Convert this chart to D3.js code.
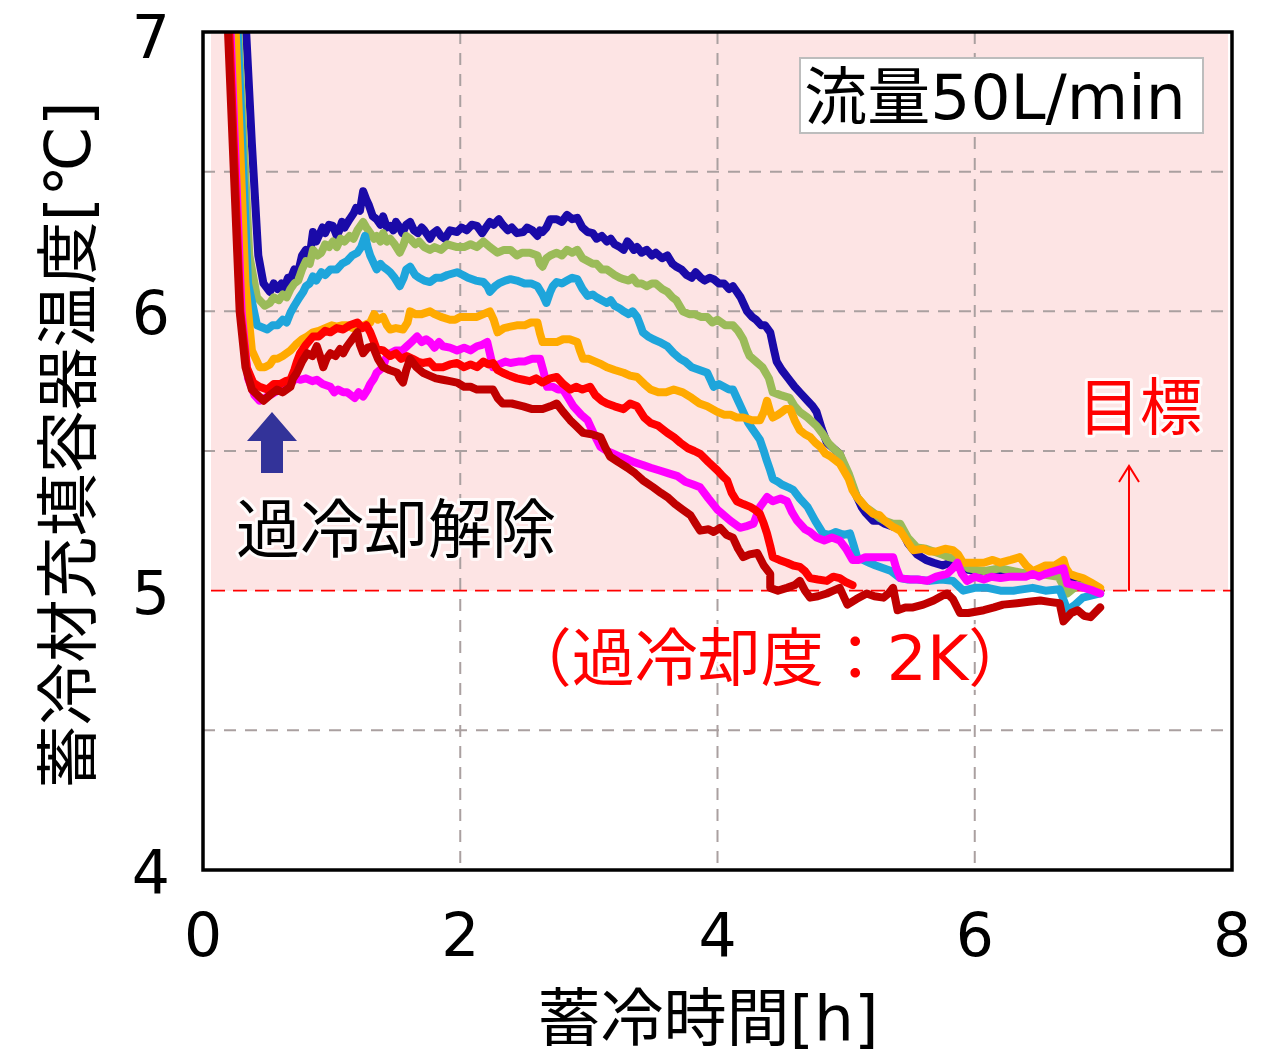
<!DOCTYPE html>
<html>
<head>
<meta charset="utf-8">
<script src="https://cdn.jsdelivr.net/npm/d3@7"></script>
<style>
  html, body { margin: 0; padding: 0; background: #fff; }
  svg { display: block; }
  text { font-family: "DejaVu Sans", "Noto Sans CJK JP", sans-serif; }
</style>
</head>
<body>
<svg id="chart" width="1272" height="1057"></svg>
<script>
// Axis ticks
const xTicks = [0, 2, 4, 6, 8];
const yTicks = [4, 5, 6, 7];
const xGrid = [2, 4, 6];
const yGrid = [4.5, 5.5, 6, 6.5];
const targetTemp = 5;

// Storage-material container temperature [°C] vs. charging time [h], as [time, temp]
const seriesNavy = [[0.33,7.05],[0.38,6.6],[0.43,6.2],[0.47,6.1],[0.52,6.07],[0.55,6.1],[0.58,6.08],[0.61,6.1],[0.63,6.08],[0.66,6.12],[0.68,6.115],[0.71,6.15],[0.74,6.14],[0.77,6.2],[0.8,6.22],[0.83,6.2],[0.855,6.284],[0.88,6.25],[0.9,6.27],[0.93,6.3],[0.95,6.28],[0.98,6.31],[1.01,6.306],[1.04,6.27],[1.06,6.29],[1.08,6.32],[1.1,6.3],[1.14,6.33],[1.17,6.35],[1.19,6.37],[1.22,6.36],[1.245,6.43],[1.27,6.4],[1.29,6.38],[1.32,6.34],[1.35,6.33],[1.38,6.31],[1.4,6.34],[1.43,6.3],[1.455,6.306],[1.48,6.29],[1.5,6.32],[1.53,6.3],[1.55,6.28],[1.58,6.31],[1.61,6.32],[1.64,6.29],[1.67,6.28],[1.7,6.3],[1.72,6.29],[1.765,6.26],[1.79,6.28],[1.82,6.29],[1.85,6.27],[1.88,6.26],[1.92,6.29],[1.975,6.284],[2.01,6.3],[2.05,6.29],[2.09,6.31],[2.13,6.306],[2.17,6.28],[2.2,6.3],[2.23,6.32],[2.26,6.31],[2.3,6.33],[2.33,6.31],[2.37,6.29],[2.4,6.3],[2.44,6.28],[2.49,6.284],[2.52,6.3],[2.56,6.29],[2.6,6.27],[2.62,6.29],[2.64,6.284],[2.67,6.3],[2.7,6.33],[2.75,6.33],[2.79,6.32],[2.83,6.345],[2.87,6.33],[2.91,6.335],[2.95,6.3],[2.99,6.284],[3.03,6.28],[3.06,6.26],[3.1,6.27],[3.14,6.25],[3.17,6.26],[3.2,6.24],[3.24,6.23],[3.27,6.22],[3.3,6.25],[3.32,6.24],[3.35,6.22],[3.375,6.23],[3.41,6.21],[3.45,6.22],[3.49,6.2],[3.52,6.21],[3.57,6.19],[3.61,6.2],[3.65,6.17],[3.68,6.16],[3.72,6.15],[3.76,6.13],[3.8,6.12],[3.83,6.14],[3.87,6.12],[3.9,6.11],[3.94,6.12],[3.97,6.115],[4.01,6.1],[4.05,6.1],[4.09,6.08],[4.12,6.09],[4.15,6.07],[4.18,6.05],[4.21,6.02],[4.23,6.0],[4.27,5.98],[4.3,5.97],[4.34,5.95],[4.37,5.95],[4.41,5.925],[4.44,5.86],[4.46,5.82],[4.5,5.79],[4.55,5.76],[4.6,5.73],[4.64,5.71],[4.7,5.68],[4.74,5.66],[4.77,5.64],[4.81,5.58],[4.85,5.53],[4.9,5.51],[4.95,5.49],[4.99,5.44],[5.02,5.41],[5.05,5.37],[5.085,5.335],[5.12,5.3],[5.15,5.28],[5.21,5.25],[5.26,5.25],[5.3,5.24],[5.36,5.23],[5.42,5.23],[5.45,5.2],[5.48,5.17],[5.55,5.13],[5.62,5.11],[5.68,5.10],[5.75,5.09],[5.81,5.10],[5.89,5.08],[6.0,5.07],[6.2,5.07],[6.4,5.06],[6.6,5.06],[6.8,5.04],[6.975,5.0]];

const seriesGreen = [[0.27,7.05],[0.36,6.2],[0.42,6.05],[0.48,6.02],[0.52,6.03],[0.55,6.05],[0.59,6.04],[0.62,6.06],[0.65,6.05],[0.68,6.08],[0.71,6.1],[0.74,6.11],[0.77,6.15],[0.8,6.18],[0.83,6.17],[0.855,6.22],[0.89,6.2],[0.92,6.21],[0.95,6.24],[0.98,6.23],[1.01,6.25],[1.04,6.23],[1.07,6.26],[1.1,6.25],[1.14,6.27],[1.17,6.26],[1.2,6.29],[1.245,6.32],[1.27,6.3],[1.3,6.28],[1.33,6.26],[1.35,6.27],[1.38,6.25],[1.4,6.28],[1.43,6.25],[1.455,6.26],[1.49,6.24],[1.53,6.21],[1.56,6.24],[1.58,6.27],[1.61,6.26],[1.65,6.24],[1.68,6.25],[1.72,6.23],[1.765,6.22],[1.8,6.23],[1.85,6.22],[1.9,6.24],[1.975,6.23],[2.03,6.23],[2.08,6.24],[2.13,6.23],[2.18,6.25],[2.23,6.23],[2.29,6.21],[2.34,6.22],[2.39,6.22],[2.44,6.2],[2.48,6.21],[2.54,6.21],[2.6,6.2],[2.62,6.17],[2.64,6.16],[2.67,6.19],[2.7,6.2],[2.75,6.21],[2.79,6.2],[2.83,6.22],[2.87,6.21],[2.91,6.22],[2.95,6.19],[2.99,6.18],[3.03,6.17],[3.06,6.17],[3.1,6.15],[3.14,6.15],[3.17,6.14],[3.2,6.13],[3.24,6.12],[3.27,6.115],[3.31,6.11],[3.34,6.12],[3.375,6.10],[3.41,6.1],[3.45,6.09],[3.49,6.1],[3.52,6.1],[3.57,6.08],[3.61,6.07],[3.65,6.05],[3.68,6.04],[3.73,6.0],[3.78,5.99],[3.82,5.99],[3.87,5.98],[3.92,5.98],[3.96,5.96],[4.0,5.97],[4.06,5.95],[4.12,5.95],[4.16,5.93],[4.2,5.9],[4.23,5.86],[4.25,5.84],[4.3,5.82],[4.35,5.80],[4.4,5.76],[4.43,5.71],[4.49,5.7],[4.56,5.69],[4.6,5.66],[4.64,5.64],[4.7,5.62],[4.77,5.59],[4.82,5.56],[4.86,5.53],[4.9,5.51],[4.95,5.49],[5.02,5.42],[5.085,5.335],[5.15,5.3],[5.21,5.28],[5.26,5.26],[5.3,5.25],[5.36,5.24],[5.42,5.24],[5.48,5.19],[5.55,5.155],[5.62,5.15],[5.68,5.14],[5.74,5.13],[5.8,5.12],[5.89,5.11],[5.95,5.08],[6.07,5.07],[6.2,5.08],[6.3,5.07],[6.4,5.06],[6.5,5.06],[6.65,5.05],[6.72,4.99],[6.8,5.02],[6.9,5.01],[6.975,5.0]];

const seriesSky = [[0.265,7.05],[0.35,6.1],[0.42,5.95],[0.5,5.935],[0.54,5.95],[0.58,5.95],[0.62,5.97],[0.65,5.96],[0.68,5.995],[0.71,6.02],[0.75,6.05],[0.78,6.07],[0.8,6.09],[0.83,6.1],[0.855,6.125],[0.88,6.11],[0.92,6.14],[0.95,6.13],[0.99,6.15],[1.04,6.15],[1.08,6.17],[1.12,6.18],[1.16,6.2],[1.2,6.21],[1.23,6.23],[1.26,6.27],[1.28,6.23],[1.3,6.2],[1.33,6.17],[1.35,6.15],[1.38,6.17],[1.4,6.16],[1.43,6.15],[1.455,6.14],[1.49,6.12],[1.53,6.09],[1.56,6.12],[1.58,6.15],[1.61,6.16],[1.65,6.13],[1.68,6.12],[1.72,6.11],[1.765,6.105],[1.81,6.12],[1.85,6.12],[1.9,6.13],[1.975,6.14],[2.02,6.13],[2.06,6.12],[2.12,6.11],[2.18,6.105],[2.21,6.09],[2.23,6.07],[2.27,6.09],[2.3,6.1],[2.35,6.11],[2.39,6.115],[2.44,6.11],[2.5,6.1],[2.55,6.1],[2.6,6.09],[2.64,6.06],[2.67,6.03],[2.7,6.07],[2.72,6.09],[2.75,6.105],[2.79,6.1],[2.83,6.11],[2.87,6.12],[2.91,6.115],[2.95,6.08],[2.99,6.055],[3.03,6.06],[3.06,6.05],[3.1,6.04],[3.14,6.03],[3.17,6.04],[3.2,6.02],[3.24,6.01],[3.27,6.0],[3.31,5.99],[3.34,6.0],[3.375,5.98],[3.4,5.95],[3.42,5.925],[3.46,5.91],[3.5,5.9],[3.55,5.89],[3.61,5.875],[3.66,5.85],[3.71,5.83],[3.75,5.82],[3.8,5.8],[3.86,5.79],[3.92,5.78],[3.95,5.75],[3.97,5.73],[4.01,5.74],[4.05,5.73],[4.09,5.72],[4.12,5.72],[4.16,5.68],[4.2,5.64],[4.24,5.6],[4.27,5.58],[4.3,5.56],[4.33,5.54],[4.36,5.5],[4.38,5.47],[4.41,5.43],[4.43,5.40],[4.47,5.39],[4.5,5.38],[4.55,5.37],[4.59,5.36],[4.64,5.33],[4.70,5.30],[4.76,5.25],[4.82,5.205],[4.87,5.2],[4.92,5.21],[4.98,5.2],[5.03,5.205],[5.06,5.16],[5.085,5.12],[5.13,5.11],[5.18,5.1],[5.23,5.09],[5.29,5.08],[5.35,5.07],[5.42,5.045],[5.48,5.04],[5.55,5.04],[5.65,5.035],[5.74,5.04],[5.83,5.035],[5.91,5.0],[6.0,5.01],[6.1,5.01],[6.2,5.0],[6.3,5.0],[6.45,5.01],[6.55,5.0],[6.66,5.005],[6.72,4.93],[6.78,4.95],[6.84,4.975],[6.975,4.99]];

const seriesOrange = [[0.25,7.05],[0.33,6.1],[0.38,5.86],[0.44,5.8],[0.48,5.80],[0.52,5.81],[0.55,5.83],[0.58,5.83],[0.62,5.84],[0.65,5.85],[0.68,5.86],[0.72,5.88],[0.77,5.9],[0.81,5.91],[0.855,5.925],[0.9,5.93],[0.95,5.94],[1.0,5.95],[1.04,5.945],[1.08,5.95],[1.12,5.95],[1.16,5.94],[1.2,5.945],[1.25,5.95],[1.3,5.96],[1.33,5.99],[1.36,5.97],[1.4,5.98],[1.43,5.95],[1.455,5.935],[1.5,5.94],[1.555,5.935],[1.59,5.96],[1.61,6.0],[1.65,5.99],[1.7,5.99],[1.765,6.0],[1.8,5.99],[1.85,5.98],[1.92,5.97],[1.96,5.97],[2.0,5.98],[2.06,5.98],[2.13,5.98],[2.18,5.99],[2.23,6.0],[2.26,5.97],[2.29,5.925],[2.34,5.94],[2.39,5.945],[2.44,5.95],[2.5,5.95],[2.55,5.96],[2.6,5.96],[2.62,5.92],[2.64,5.89],[2.7,5.89],[2.75,5.89],[2.8,5.9],[2.85,5.9],[2.91,5.89],[2.93,5.86],[2.955,5.83],[3.0,5.83],[3.05,5.82],[3.1,5.81],[3.14,5.80],[3.2,5.79],[3.27,5.78],[3.32,5.77],[3.375,5.765],[3.43,5.74],[3.48,5.72],[3.54,5.71],[3.6,5.71],[3.66,5.72],[3.73,5.71],[3.8,5.69],[3.86,5.67],[3.92,5.66],[4.0,5.64],[4.05,5.63],[4.1,5.63],[4.15,5.62],[4.2,5.62],[4.27,5.61],[4.33,5.61],[4.36,5.64],[4.385,5.68],[4.41,5.64],[4.43,5.62],[4.47,5.63],[4.5,5.64],[4.53,5.65],[4.565,5.65],[4.6,5.61],[4.64,5.575],[4.68,5.56],[4.72,5.55],[4.76,5.53],[4.8,5.515],[4.84,5.49],[4.88,5.48],[4.95,5.455],[5.02,5.4],[5.05,5.36],[5.085,5.335],[5.15,5.3],[5.21,5.275],[5.26,5.27],[5.3,5.25],[5.36,5.23],[5.42,5.215],[5.47,5.18],[5.52,5.145],[5.6,5.15],[5.65,5.14],[5.7,5.14],[5.77,5.15],[5.83,5.145],[5.87,5.13],[5.91,5.10],[6.0,5.1],[6.07,5.10],[6.14,5.11],[6.2,5.1],[6.28,5.11],[6.35,5.12],[6.4,5.09],[6.45,5.07],[6.5,5.08],[6.55,5.09],[6.62,5.09],[6.69,5.11],[6.71,5.08],[6.74,5.06],[6.8,5.05],[6.84,5.045],[6.9,5.03],[6.975,5.01]];

const seriesMagenta = [[0.21,7.05],[0.3,6.0],[0.35,5.76],[0.4,5.7],[0.44,5.68],[0.48,5.69],[0.52,5.7],[0.56,5.71],[0.6,5.72],[0.64,5.73],[0.68,5.74],[0.72,5.76],[0.755,5.755],[0.8,5.76],[0.85,5.75],[0.885,5.755],[0.93,5.74],[0.99,5.73],[1.02,5.71],[1.05,5.72],[1.09,5.71],[1.12,5.71],[1.15,5.7],[1.18,5.69],[1.21,5.71],[1.245,5.695],[1.28,5.72],[1.3,5.74],[1.33,5.76],[1.35,5.78],[1.4,5.8],[1.42,5.83],[1.455,5.85],[1.5,5.86],[1.55,5.86],[1.585,5.875],[1.62,5.89],[1.665,5.91],[1.7,5.89],[1.735,5.9],[1.765,5.89],[1.8,5.87],[1.835,5.89],[1.865,5.875],[1.92,5.87],[1.975,5.86],[2.03,5.87],[2.08,5.86],[2.13,5.875],[2.17,5.88],[2.21,5.89],[2.23,5.85],[2.255,5.80],[2.3,5.81],[2.35,5.82],[2.39,5.815],[2.45,5.82],[2.5,5.82],[2.56,5.83],[2.62,5.83],[2.65,5.78],[2.675,5.73],[2.72,5.73],[2.76,5.72],[2.8,5.72],[2.84,5.69],[2.88,5.66],[2.94,5.63],[2.99,5.61],[3.04,5.56],[3.09,5.515],[3.14,5.5],[3.19,5.49],[3.24,5.48],[3.3,5.47],[3.35,5.46],[3.42,5.45],[3.48,5.44],[3.55,5.43],[3.62,5.42],[3.69,5.41],[3.75,5.39],[3.81,5.38],[3.865,5.37],[3.93,5.33],[4.0,5.29],[4.05,5.27],[4.1,5.25],[4.175,5.225],[4.22,5.23],[4.28,5.24],[4.33,5.3],[4.385,5.335],[4.43,5.32],[4.49,5.33],[4.54,5.32],[4.58,5.28],[4.62,5.25],[4.68,5.22],[4.72,5.21],[4.77,5.19],[4.83,5.18],[4.89,5.19],[4.95,5.18],[5.0,5.15],[5.05,5.11],[5.1,5.11],[5.15,5.12],[5.2,5.12],[5.265,5.12],[5.32,5.12],[5.365,5.12],[5.39,5.08],[5.42,5.045],[5.5,5.04],[5.56,5.04],[5.63,5.035],[5.7,5.05],[5.785,5.06],[5.83,5.08],[5.865,5.10],[5.9,5.06],[5.94,5.035],[6.0,5.05],[6.07,5.04],[6.13,5.05],[6.2,5.045],[6.27,5.05],[6.33,5.05],[6.4,5.05],[6.45,5.06],[6.5,5.05],[6.55,5.06],[6.62,5.07],[6.69,5.08],[6.72,5.025],[6.78,5.02],[6.85,5.01],[6.92,5.0],[6.975,4.99]];

const seriesRed = [[0.2,7.05],[0.29,6.0],[0.34,5.8],[0.39,5.745],[0.44,5.73],[0.5,5.72],[0.55,5.74],[0.6,5.74],[0.64,5.75],[0.68,5.755],[0.71,5.79],[0.73,5.82],[0.755,5.85],[0.8,5.88],[0.855,5.91],[0.9,5.91],[0.95,5.93],[0.99,5.925],[1.04,5.94],[1.09,5.935],[1.14,5.95],[1.2,5.96],[1.24,5.94],[1.27,5.95],[1.3,5.925],[1.33,5.89],[1.35,5.865],[1.4,5.86],[1.455,5.84],[1.5,5.85],[1.54,5.83],[1.585,5.84],[1.63,5.83],[1.67,5.82],[1.71,5.815],[1.76,5.82],[1.8,5.8],[1.865,5.80],[1.92,5.81],[1.975,5.815],[2.03,5.8],[2.08,5.81],[2.13,5.80],[2.18,5.82],[2.22,5.81],[2.255,5.815],[2.29,5.79],[2.33,5.78],[2.38,5.77],[2.44,5.76],[2.49,5.755],[2.54,5.75],[2.59,5.76],[2.64,5.745],[2.7,5.76],[2.75,5.765],[2.8,5.74],[2.855,5.72],[2.9,5.73],[2.95,5.72],[3.01,5.73],[3.05,5.7],[3.1,5.68],[3.14,5.67],[3.2,5.66],[3.27,5.65],[3.32,5.67],[3.375,5.66],[3.43,5.62],[3.48,5.60],[3.54,5.59],[3.61,5.565],[3.66,5.55],[3.71,5.53],[3.77,5.51],[3.82,5.5],[3.865,5.49],[3.93,5.46],[4.0,5.43],[4.04,5.41],[4.075,5.395],[4.11,5.35],[4.15,5.32],[4.2,5.31],[4.255,5.30],[4.29,5.29],[4.33,5.275],[4.36,5.24],[4.385,5.205],[4.41,5.16],[4.43,5.12],[4.48,5.11],[4.54,5.10],[4.59,5.09],[4.64,5.085],[4.68,5.07],[4.72,5.045],[4.78,5.04],[4.85,5.035],[4.9,5.05],[4.95,5.045],[5.0,5.03],[5.05,5.02]];

const seriesDarkRed = [[0.19,7.05],[0.285,6.0],[0.33,5.8],[0.38,5.72],[0.47,5.68],[0.52,5.7],[0.575,5.72],[0.62,5.71],[0.68,5.73],[0.7,5.76],[0.73,5.78],[0.77,5.82],[0.81,5.85],[0.85,5.84],[0.885,5.875],[0.91,5.84],[0.935,5.80],[0.96,5.83],[0.99,5.85],[1.03,5.84],[1.065,5.865],[1.09,5.85],[1.12,5.875],[1.16,5.9],[1.2,5.925],[1.22,5.88],[1.245,5.85],[1.28,5.87],[1.32,5.875],[1.36,5.83],[1.4,5.80],[1.45,5.79],[1.51,5.78],[1.53,5.76],[1.555,5.745],[1.58,5.79],[1.61,5.83],[1.66,5.8],[1.71,5.78],[1.76,5.77],[1.81,5.76],[1.865,5.755],[1.92,5.75],[1.975,5.745],[2.03,5.73],[2.08,5.73],[2.13,5.72],[2.19,5.72],[2.255,5.72],[2.29,5.69],[2.33,5.67],[2.4,5.67],[2.49,5.66],[2.56,5.65],[2.64,5.65],[2.7,5.66],[2.75,5.67],[2.8,5.64],[2.855,5.61],[2.9,5.59],[2.955,5.565],[3.02,5.56],[3.09,5.55],[3.13,5.51],[3.165,5.48],[3.23,5.46],[3.3,5.44],[3.36,5.42],[3.42,5.395],[3.5,5.37],[3.56,5.35],[3.61,5.335],[3.67,5.31],[3.73,5.29],[3.79,5.27],[3.83,5.24],[3.865,5.215],[3.93,5.22],[3.97,5.21],[4.02,5.225],[4.07,5.2],[4.12,5.19],[4.16,5.15],[4.2,5.12],[4.25,5.13],[4.31,5.135],[4.36,5.09],[4.41,5.06],[4.41,5.01],[4.47,5.0],[4.54,5.01],[4.6,5.02],[4.64,5.035],[4.68,5.0],[4.72,4.975],[4.78,4.98],[4.85,4.99],[4.9,5.0],[4.95,5.01],[5.01,4.95],[5.08,4.97],[5.16,4.99],[5.22,4.98],[5.29,4.975],[5.33,4.99],[5.365,5.01],[5.40,4.93],[5.46,4.94],[5.52,4.94],[5.6,4.95],[5.68,4.965],[5.74,4.98],[5.785,4.99],[5.83,4.97],[5.885,4.92],[5.95,4.92],[6.07,4.93],[6.15,4.94],[6.22,4.95],[6.33,4.955],[6.42,4.96],[6.51,4.965],[6.58,4.96],[6.66,4.955],[6.69,4.89],[6.75,4.92],[6.8,4.93],[6.85,4.91],[6.9,4.905],[6.975,4.94]];

const seriesList = [seriesNavy, seriesGreen, seriesSky, seriesOrange, seriesMagenta, seriesRed, seriesDarkRed];
const seriesColors = ["#1a0aa8", "#9bbb59", "#1ea5db", "#ffaa00", "#ff00ff", "#ff0000", "#c00000"];

const svg = d3.select("#chart");
const plotLeft = 203, plotRight = 1232, plotTop = 32, plotBottom = 870;

const x = d3.scaleLinear().domain([0, 8]).range([plotLeft, plotRight]);
const y = d3.scaleLinear().domain([4, 7]).range([plotBottom, plotTop]);

svg.append("defs").append("clipPath").attr("id", "plotClip")
  .append("rect").attr("x", plotLeft).attr("y", plotTop)
  .attr("width", plotRight - plotLeft).attr("height", plotBottom - plotTop);

// Shaded band above the target temperature
svg.append("rect")
  .attr("x", plotLeft + 8).attr("y", y(7) + 2)
  .attr("width", plotRight - plotLeft - 12).attr("height", y(targetTemp) - y(7) - 2)
  .attr("fill", "#fde4e4");

// Dashed grid
const grid = svg.append("g").attr("stroke", "#aaa0a0").attr("stroke-width", 2).attr("stroke-dasharray", "12,9");
grid.selectAll("line.v").data(xGrid).join("line").attr("class", "v")
  .attr("x1", d => x(d)).attr("x2", d => x(d)).attr("y1", plotTop).attr("y2", plotBottom);
grid.selectAll("line.h").data(yGrid).join("line").attr("class", "h")
  .attr("x1", plotLeft).attr("x2", plotRight).attr("y1", d => y(d)).attr("y2", d => y(d));

// Target line
svg.append("line")
  .attr("x1", plotLeft + 8).attr("x2", plotRight).attr("y1", y(targetTemp)).attr("y2", y(targetTemp))
  .attr("stroke", "#ff0000").attr("stroke-width", 1.6).attr("stroke-dasharray", "14,8");

// Temperature traces
const line = d3.line().x(d => x(d[0])).y(d => y(d[1]));
const traces = svg.append("g").attr("clip-path", "url(#plotClip)");
seriesList.forEach((s, i) => {
  traces.append("path")
    .attr("d", line(s))
    .attr("fill", "none")
    .attr("stroke", seriesColors[i])
    .attr("stroke-width", 8)
    .attr("stroke-linejoin", "round")
    .attr("stroke-linecap", "round");
});

// Frame
svg.append("rect")
  .attr("x", plotLeft).attr("y", plotTop).attr("width", plotRight - plotLeft).attr("height", plotBottom - plotTop)
  .attr("fill", "none").attr("stroke", "#000").attr("stroke-width", 3.5);

// Tick labels
svg.append("g").selectAll("text").data(yTicks).join("text")
  .attr("x", 170).attr("y", d => y(d) + (d === 7 ? 5 : 2))
  .attr("text-anchor", "end").attr("dominant-baseline", "central")
  .attr("font-size", 60).style("fill", "#000").text(d => d);
svg.append("g").selectAll("text").data(xTicks).join("text")
  .attr("x", d => x(d)).attr("y", 935)
  .attr("text-anchor", "middle").attr("dominant-baseline", "central")
  .attr("font-size", 60).style("fill", "#000").text(d => d);

// Axis titles
svg.append("text")
  .attr("x", 708).attr("y", 1018)
  .attr("text-anchor", "middle").attr("dominant-baseline", "central")
  .attr("font-size", 63).style("fill", "#000").text("蓄冷時間[h]");
svg.append("text")
  .attr("transform", "translate(68,445) rotate(-90)")
  .attr("text-anchor", "middle").attr("dominant-baseline", "central")
  .attr("font-size", 63).style("fill", "#000").text("蓄冷材充填容器温度[℃]");

// Flow-rate label box
svg.append("rect")
  .attr("x", 800).attr("y", 58).attr("width", 403).attr("height", 75)
  .attr("fill", "#fff").attr("stroke", "#bdbdbd").attr("stroke-width", 2);
svg.append("text")
  .attr("x", 995).attr("y", 97)
  .attr("text-anchor", "middle").attr("dominant-baseline", "central")
  .attr("font-size", 63).style("fill", "#000").text("流量50L/min");

// Annotations with a soft white halo
function halo(sel, color) {
  return sel.style("fill", color)
    .attr("stroke", "#fff").attr("stroke-width", 6).attr("stroke-opacity", 0.85)
    .attr("stroke-linejoin", "round").attr("paint-order", "stroke");
}

// Supercooling release marker
svg.append("path")
  .attr("d", d3.line()([[272, 412], [297, 441], [283, 441], [283, 473], [261, 473], [261, 441], [247, 441]]) + "Z")
  .attr("fill", "#333399");
halo(svg.append("text")
  .attr("x", 396).attr("y", 530)
  .attr("text-anchor", "middle").attr("dominant-baseline", "central")
  .attr("font-size", 64).text("過冷却解除"), "#000");

// Target arrow
const arrowX = 1129;
svg.append("line")
  .attr("x1", arrowX).attr("x2", arrowX).attr("y1", y(targetTemp)).attr("y2", 466)
  .attr("stroke", "#ff0000").attr("stroke-width", 2);
svg.append("path")
  .attr("d", d3.line()([[arrowX - 10, 482], [arrowX, 466], [arrowX + 10, 482]]))
  .attr("fill", "none").attr("stroke", "#ff0000").attr("stroke-width", 2);
halo(svg.append("text")
  .attr("x", 1140).attr("y", 408)
  .attr("text-anchor", "middle").attr("dominant-baseline", "central")
  .attr("font-size", 62).text("目標"), "#ff0000");

halo(svg.append("text")
  .attr("x", 770).attr("y", 658)
  .attr("text-anchor", "middle").attr("dominant-baseline", "central")
  .attr("font-size", 63).text("（過冷却度：2K）"), "#ff0000");
</script>
</body>
</html>
